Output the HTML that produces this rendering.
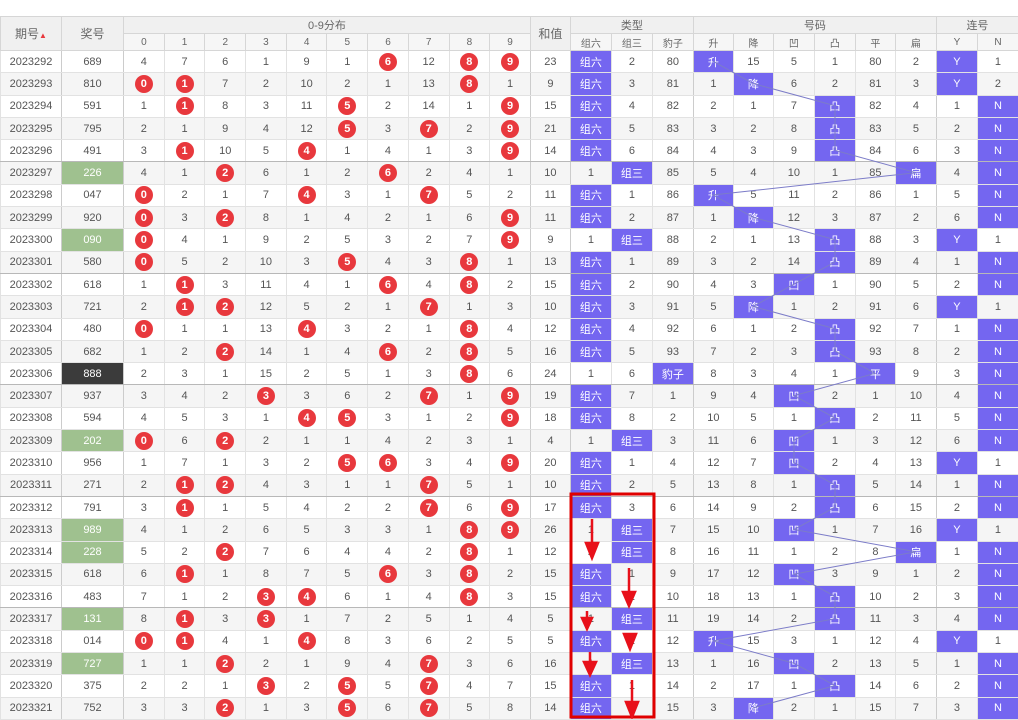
<!DOCTYPE html>
<html><head><meta charset="utf-8">
<style>
body{margin:0;background:#fff;width:1018px;height:719px;overflow:hidden;position:relative;font-family:"Liberation Sans","Noto Sans CJK SC",sans-serif;}
table{position:absolute;left:0;top:16px;border-collapse:collapse;table-layout:fixed;width:1018px;font-size:11px;color:#555;}
td,th{padding:0;text-align:center;border:1px solid #e2e2e2;overflow:hidden;white-space:nowrap;}
th{background:#f0f0f0;font-weight:normal;color:#666;border-color:#d6d6d6;}
thead tr.h1 th{height:16px;font-size:11px}
thead tr.h1 th[rowspan]{font-size:12px}
thead tr.h2 th{height:16px;font-size:10px;background:#f6f6f6}
tbody tr{height:22.3px}
tbody tr:nth-child(even){background:#f5f5f5}
tbody tr.s td{border-bottom:1px solid #b8b8b8}
td:nth-child(2),td:nth-child(12),td:nth-child(13),td:nth-child(16),td:nth-child(22){border-right:1px solid #ccc}
td:nth-child(1){border-right:1px solid #ccc}
b{display:inline-block;width:18px;height:18px;line-height:18px;border-radius:50%;background:#e8383d;color:#fff;font-weight:bold;font-size:11px}
.p{background:#7466f0;color:#fff}
.g{background:#9fc18f;color:#fff}
.k{background:#3b3b3b;color:#fff}
.up{color:#e8383d;font-size:8px}
svg{position:absolute;left:0;top:0}
</style></head><body>
<table>
<colgroup><col style="width:61px"><col style="width:62px">
<col style="width:40.7px"><col style="width:40.7px"><col style="width:40.7px"><col style="width:40.7px"><col style="width:40.7px"><col style="width:40.7px"><col style="width:40.7px"><col style="width:40.7px"><col style="width:40.7px"><col style="width:40.7px">
<col style="width:40px"><col style="width:41px"><col style="width:41px"><col style="width:41px">
<col style="width:40px"><col style="width:40px"><col style="width:41px"><col style="width:41px"><col style="width:40px"><col style="width:41px">
<col style="width:41px"><col style="width:41px"></colgroup>
<thead>
<tr class="h1"><th rowspan="2">期号<span class="up">▲</span></th><th rowspan="2">奖号</th><th colspan="10">0-9分布</th><th rowspan="2">和值</th><th colspan="3">类型</th><th colspan="6">号码</th><th colspan="2">连号</th></tr>
<tr class="h2"><th>0</th><th>1</th><th>2</th><th>3</th><th>4</th><th>5</th><th>6</th><th>7</th><th>8</th><th>9</th><th>组六</th><th>组三</th><th>豹子</th><th>升</th><th>降</th><th>凹</th><th>凸</th><th>平</th><th>扁</th><th>Y</th><th>N</th></tr>
</thead>
<tbody>
<tr><td>2023292</td><td>689</td><td>4</td><td>7</td><td>6</td><td>1</td><td>9</td><td>1</td><td><b>6</b></td><td>12</td><td><b>8</b></td><td><b>9</b></td><td>23</td><td class="p">组六</td><td>2</td><td>80</td><td class="p">升</td><td>15</td><td>5</td><td>1</td><td>80</td><td>2</td><td class="p">Y</td><td>1</td></tr>
<tr><td>2023293</td><td>810</td><td><b>0</b></td><td><b>1</b></td><td>7</td><td>2</td><td>10</td><td>2</td><td>1</td><td>13</td><td><b>8</b></td><td>1</td><td>9</td><td class="p">组六</td><td>3</td><td>81</td><td>1</td><td class="p">降</td><td>6</td><td>2</td><td>81</td><td>3</td><td class="p">Y</td><td>2</td></tr>
<tr><td>2023294</td><td>591</td><td>1</td><td><b>1</b></td><td>8</td><td>3</td><td>11</td><td><b>5</b></td><td>2</td><td>14</td><td>1</td><td><b>9</b></td><td>15</td><td class="p">组六</td><td>4</td><td>82</td><td>2</td><td>1</td><td>7</td><td class="p">凸</td><td>82</td><td>4</td><td>1</td><td class="p">N</td></tr>
<tr><td>2023295</td><td>795</td><td>2</td><td>1</td><td>9</td><td>4</td><td>12</td><td><b>5</b></td><td>3</td><td><b>7</b></td><td>2</td><td><b>9</b></td><td>21</td><td class="p">组六</td><td>5</td><td>83</td><td>3</td><td>2</td><td>8</td><td class="p">凸</td><td>83</td><td>5</td><td>2</td><td class="p">N</td></tr>
<tr class="s"><td>2023296</td><td>491</td><td>3</td><td><b>1</b></td><td>10</td><td>5</td><td><b>4</b></td><td>1</td><td>4</td><td>1</td><td>3</td><td><b>9</b></td><td>14</td><td class="p">组六</td><td>6</td><td>84</td><td>4</td><td>3</td><td>9</td><td class="p">凸</td><td>84</td><td>6</td><td>3</td><td class="p">N</td></tr>
<tr><td>2023297</td><td class="g">226</td><td>4</td><td>1</td><td><b>2</b></td><td>6</td><td>1</td><td>2</td><td><b>6</b></td><td>2</td><td>4</td><td>1</td><td>10</td><td>1</td><td class="p">组三</td><td>85</td><td>5</td><td>4</td><td>10</td><td>1</td><td>85</td><td class="p">扁</td><td>4</td><td class="p">N</td></tr>
<tr><td>2023298</td><td>047</td><td><b>0</b></td><td>2</td><td>1</td><td>7</td><td><b>4</b></td><td>3</td><td>1</td><td><b>7</b></td><td>5</td><td>2</td><td>11</td><td class="p">组六</td><td>1</td><td>86</td><td class="p">升</td><td>5</td><td>11</td><td>2</td><td>86</td><td>1</td><td>5</td><td class="p">N</td></tr>
<tr><td>2023299</td><td>920</td><td><b>0</b></td><td>3</td><td><b>2</b></td><td>8</td><td>1</td><td>4</td><td>2</td><td>1</td><td>6</td><td><b>9</b></td><td>11</td><td class="p">组六</td><td>2</td><td>87</td><td>1</td><td class="p">降</td><td>12</td><td>3</td><td>87</td><td>2</td><td>6</td><td class="p">N</td></tr>
<tr><td>2023300</td><td class="g">090</td><td><b>0</b></td><td>4</td><td>1</td><td>9</td><td>2</td><td>5</td><td>3</td><td>2</td><td>7</td><td><b>9</b></td><td>9</td><td>1</td><td class="p">组三</td><td>88</td><td>2</td><td>1</td><td>13</td><td class="p">凸</td><td>88</td><td>3</td><td class="p">Y</td><td>1</td></tr>
<tr class="s"><td>2023301</td><td>580</td><td><b>0</b></td><td>5</td><td>2</td><td>10</td><td>3</td><td><b>5</b></td><td>4</td><td>3</td><td><b>8</b></td><td>1</td><td>13</td><td class="p">组六</td><td>1</td><td>89</td><td>3</td><td>2</td><td>14</td><td class="p">凸</td><td>89</td><td>4</td><td>1</td><td class="p">N</td></tr>
<tr><td>2023302</td><td>618</td><td>1</td><td><b>1</b></td><td>3</td><td>11</td><td>4</td><td>1</td><td><b>6</b></td><td>4</td><td><b>8</b></td><td>2</td><td>15</td><td class="p">组六</td><td>2</td><td>90</td><td>4</td><td>3</td><td class="p">凹</td><td>1</td><td>90</td><td>5</td><td>2</td><td class="p">N</td></tr>
<tr><td>2023303</td><td>721</td><td>2</td><td><b>1</b></td><td><b>2</b></td><td>12</td><td>5</td><td>2</td><td>1</td><td><b>7</b></td><td>1</td><td>3</td><td>10</td><td class="p">组六</td><td>3</td><td>91</td><td>5</td><td class="p">降</td><td>1</td><td>2</td><td>91</td><td>6</td><td class="p">Y</td><td>1</td></tr>
<tr><td>2023304</td><td>480</td><td><b>0</b></td><td>1</td><td>1</td><td>13</td><td><b>4</b></td><td>3</td><td>2</td><td>1</td><td><b>8</b></td><td>4</td><td>12</td><td class="p">组六</td><td>4</td><td>92</td><td>6</td><td>1</td><td>2</td><td class="p">凸</td><td>92</td><td>7</td><td>1</td><td class="p">N</td></tr>
<tr><td>2023305</td><td>682</td><td>1</td><td>2</td><td><b>2</b></td><td>14</td><td>1</td><td>4</td><td><b>6</b></td><td>2</td><td><b>8</b></td><td>5</td><td>16</td><td class="p">组六</td><td>5</td><td>93</td><td>7</td><td>2</td><td>3</td><td class="p">凸</td><td>93</td><td>8</td><td>2</td><td class="p">N</td></tr>
<tr class="s"><td>2023306</td><td class="k">888</td><td>2</td><td>3</td><td>1</td><td>15</td><td>2</td><td>5</td><td>1</td><td>3</td><td><b>8</b></td><td>6</td><td>24</td><td>1</td><td>6</td><td class="p">豹子</td><td>8</td><td>3</td><td>4</td><td>1</td><td class="p">平</td><td>9</td><td>3</td><td class="p">N</td></tr>
<tr><td>2023307</td><td>937</td><td>3</td><td>4</td><td>2</td><td><b>3</b></td><td>3</td><td>6</td><td>2</td><td><b>7</b></td><td>1</td><td><b>9</b></td><td>19</td><td class="p">组六</td><td>7</td><td>1</td><td>9</td><td>4</td><td class="p">凹</td><td>2</td><td>1</td><td>10</td><td>4</td><td class="p">N</td></tr>
<tr><td>2023308</td><td>594</td><td>4</td><td>5</td><td>3</td><td>1</td><td><b>4</b></td><td><b>5</b></td><td>3</td><td>1</td><td>2</td><td><b>9</b></td><td>18</td><td class="p">组六</td><td>8</td><td>2</td><td>10</td><td>5</td><td>1</td><td class="p">凸</td><td>2</td><td>11</td><td>5</td><td class="p">N</td></tr>
<tr><td>2023309</td><td class="g">202</td><td><b>0</b></td><td>6</td><td><b>2</b></td><td>2</td><td>1</td><td>1</td><td>4</td><td>2</td><td>3</td><td>1</td><td>4</td><td>1</td><td class="p">组三</td><td>3</td><td>11</td><td>6</td><td class="p">凹</td><td>1</td><td>3</td><td>12</td><td>6</td><td class="p">N</td></tr>
<tr><td>2023310</td><td>956</td><td>1</td><td>7</td><td>1</td><td>3</td><td>2</td><td><b>5</b></td><td><b>6</b></td><td>3</td><td>4</td><td><b>9</b></td><td>20</td><td class="p">组六</td><td>1</td><td>4</td><td>12</td><td>7</td><td class="p">凹</td><td>2</td><td>4</td><td>13</td><td class="p">Y</td><td>1</td></tr>
<tr class="s"><td>2023311</td><td>271</td><td>2</td><td><b>1</b></td><td><b>2</b></td><td>4</td><td>3</td><td>1</td><td>1</td><td><b>7</b></td><td>5</td><td>1</td><td>10</td><td class="p">组六</td><td>2</td><td>5</td><td>13</td><td>8</td><td>1</td><td class="p">凸</td><td>5</td><td>14</td><td>1</td><td class="p">N</td></tr>
<tr><td>2023312</td><td>791</td><td>3</td><td><b>1</b></td><td>1</td><td>5</td><td>4</td><td>2</td><td>2</td><td><b>7</b></td><td>6</td><td><b>9</b></td><td>17</td><td class="p">组六</td><td>3</td><td>6</td><td>14</td><td>9</td><td>2</td><td class="p">凸</td><td>6</td><td>15</td><td>2</td><td class="p">N</td></tr>
<tr><td>2023313</td><td class="g">989</td><td>4</td><td>1</td><td>2</td><td>6</td><td>5</td><td>3</td><td>3</td><td>1</td><td><b>8</b></td><td><b>9</b></td><td>26</td><td>1</td><td class="p">组三</td><td>7</td><td>15</td><td>10</td><td class="p">凹</td><td>1</td><td>7</td><td>16</td><td class="p">Y</td><td>1</td></tr>
<tr><td>2023314</td><td class="g">228</td><td>5</td><td>2</td><td><b>2</b></td><td>7</td><td>6</td><td>4</td><td>4</td><td>2</td><td><b>8</b></td><td>1</td><td>12</td><td>2</td><td class="p">组三</td><td>8</td><td>16</td><td>11</td><td>1</td><td>2</td><td>8</td><td class="p">扁</td><td>1</td><td class="p">N</td></tr>
<tr><td>2023315</td><td>618</td><td>6</td><td><b>1</b></td><td>1</td><td>8</td><td>7</td><td>5</td><td><b>6</b></td><td>3</td><td><b>8</b></td><td>2</td><td>15</td><td class="p">组六</td><td>1</td><td>9</td><td>17</td><td>12</td><td class="p">凹</td><td>3</td><td>9</td><td>1</td><td>2</td><td class="p">N</td></tr>
<tr class="s"><td>2023316</td><td>483</td><td>7</td><td>1</td><td>2</td><td><b>3</b></td><td><b>4</b></td><td>6</td><td>1</td><td>4</td><td><b>8</b></td><td>3</td><td>15</td><td class="p">组六</td><td>2</td><td>10</td><td>18</td><td>13</td><td>1</td><td class="p">凸</td><td>10</td><td>2</td><td>3</td><td class="p">N</td></tr>
<tr><td>2023317</td><td class="g">131</td><td>8</td><td><b>1</b></td><td>3</td><td><b>3</b></td><td>1</td><td>7</td><td>2</td><td>5</td><td>1</td><td>4</td><td>5</td><td>1</td><td class="p">组三</td><td>11</td><td>19</td><td>14</td><td>2</td><td class="p">凸</td><td>11</td><td>3</td><td>4</td><td class="p">N</td></tr>
<tr><td>2023318</td><td>014</td><td><b>0</b></td><td><b>1</b></td><td>4</td><td>1</td><td><b>4</b></td><td>8</td><td>3</td><td>6</td><td>2</td><td>5</td><td>5</td><td class="p">组六</td><td>1</td><td>12</td><td class="p">升</td><td>15</td><td>3</td><td>1</td><td>12</td><td>4</td><td class="p">Y</td><td>1</td></tr>
<tr><td>2023319</td><td class="g">727</td><td>1</td><td>1</td><td><b>2</b></td><td>2</td><td>1</td><td>9</td><td>4</td><td><b>7</b></td><td>3</td><td>6</td><td>16</td><td>1</td><td class="p">组三</td><td>13</td><td>1</td><td>16</td><td class="p">凹</td><td>2</td><td>13</td><td>5</td><td>1</td><td class="p">N</td></tr>
<tr><td>2023320</td><td>375</td><td>2</td><td>2</td><td>1</td><td><b>3</b></td><td>2</td><td><b>5</b></td><td>5</td><td><b>7</b></td><td>4</td><td>7</td><td>15</td><td class="p">组六</td><td>1</td><td>14</td><td>2</td><td>17</td><td>1</td><td class="p">凸</td><td>14</td><td>6</td><td>2</td><td class="p">N</td></tr>
<tr><td>2023321</td><td>752</td><td>3</td><td>3</td><td><b>2</b></td><td>1</td><td>3</td><td><b>5</b></td><td>6</td><td><b>7</b></td><td>5</td><td>8</td><td>14</td><td class="p">组六</td><td>2</td><td>15</td><td>3</td><td class="p">降</td><td>2</td><td>1</td><td>15</td><td>7</td><td>3</td><td class="p">N</td></tr>
</tbody></table>
<svg width="1018" height="719">
<polyline fill="none" stroke="#7c7cc8" stroke-width="1" points="713,61.2 753,83.5 835,105.8 835,128.1 835,150.4 916,172.7 713,195 753,217.3 835,239.6 835,261.9 794,284.2 753,306.5 835,328.8 835,351.1 875,373.4 794,395.7 835,418 794,440.3 794,462.6 835,484.9 835,507.2 794,529.5 916,551.8 794,574.1 835,596.4 835,618.7 713,641 794,663.3 835,685.6 753,707.9"/>
<rect x="571" y="494" width="83" height="223" fill="none" stroke="#e00000" stroke-width="3"/>
<g stroke="#e8101a" stroke-width="2.5" fill="#e8101a">
<line x1="592" y1="519" x2="592" y2="545"/><polygon points="586,543 598,543 592,558"/>
<line x1="629" y1="568" x2="629" y2="594"/><polygon points="623,592 635,592 629,606"/>
<line x1="587" y1="611" x2="587" y2="620"/><polygon points="582,618 592,618 587,629"/>
<polygon points="624,634 636,634 630,649"/>
<line x1="590" y1="652" x2="590" y2="664"/><polygon points="584,662 596,662 590,675"/>
<line x1="632" y1="680" x2="632" y2="704"/><polygon points="626,702 638,702 632,717"/>
</g>
</svg>
</body></html>
